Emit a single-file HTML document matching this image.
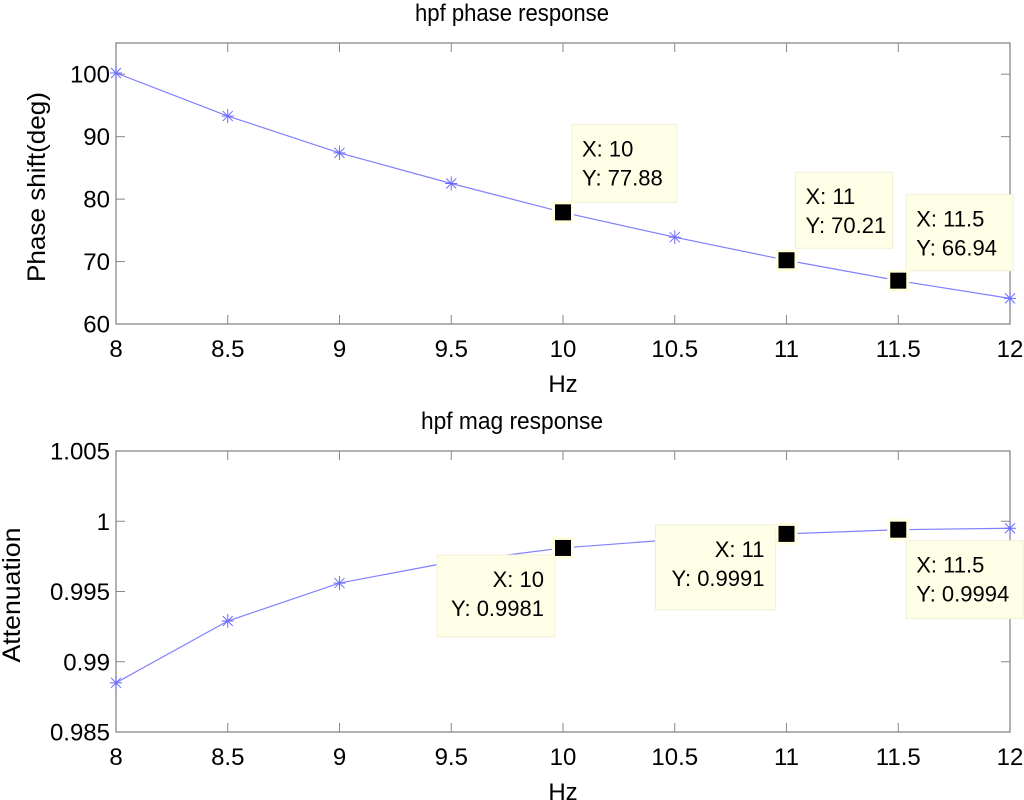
<!DOCTYPE html>
<html><head><meta charset="utf-8"><style>
body{margin:0;background:#fff;}
svg{display:block;font-family:"Liberation Sans",Arial,sans-serif;}
</style></head><body>
<svg id="fig" width="1024" height="800" viewBox="0 0 1024 800"></svg>
<script>
const xs = [8, 8.5, 9, 9.5, 10, 10.5, 11, 11.5, 12];
const phaseVals = [100.2, 93.3, 87.4, 82.5, 77.88, 73.9, 70.21, 66.94, 64.1];
const magVals = [0.9885, 0.9929, 0.9956, 0.9971, 0.9981, 0.9987, 0.9991, 0.9994, 0.9995];
const xTicks = [8, 8.5, 9, 9.5, 10, 10.5, 11, 11.5, 12];
const xTickLabels = ["8", "8.5", "9", "9.5", "10", "10.5", "11", "11.5", "12"];
const phaseTicks = [60, 70, 80, 90, 100];
const phaseTickLabels = ["60", "70", "80", "90", "100"];
const magTicks = [0.985, 0.99, 0.995, 1, 1.005];
const magTickLabels = ["0.985", "0.99", "0.995", "1", "1.005"];
const phaseTipX = [10, 11, 11.5];
const phaseTipY = [77.88, 70.21, 66.94];
const phaseTipLabelY = ["77.88", "70.21", "66.94"];
const magTipX = [10, 11, 11.5];
const magTipY = [0.9981, 0.9991, 0.9994];
const magTipLabelY = ["0.9981", "0.9991", "0.9994"];

const NS = "http://www.w3.org/2000/svg";
const svg = document.getElementById('fig');
function mk(tag, attrs, parent) {
  const e = document.createElementNS(NS, tag);
  for (const k in attrs) e.setAttribute(k, attrs[k]);
  (parent || svg).appendChild(e);
  return e;
}
function drawPanel(o) {
  const L = 116, R = 1010, T = o.top, B = o.top + 281;
  const sx = v => L + (v - 8) / 4 * (R - L);
  const sy = v => B - (v - o.ymin) / (o.ymax - o.ymin) * (B - T);
  const g = mk('g', {});
  
  
  const box = mk('rect', {x: L, y: T, width: R - L, height: B - T, fill: '#fff', stroke: '#888', 'stroke-width': 1.3}, g);
  
  
  xTicks.forEach((t, i) => {
    const x = sx(t);
    mk('line', {x1: x, x2: x, y1: B, y2: B - 9, stroke: '#888'}, g);
    mk('line', {x1: x, x2: x, y1: T, y2: T + 9, stroke: '#888'}, g);
    const tx = mk('text', {x: x, y: B + 33, 'font-size': 24, 'text-anchor': 'middle', fill: '#000'}, g);
    tx.textContent = xTickLabels[i];
    
    
  });
  o.ticks.forEach((t, i) => {
    const y = sy(t);
    mk('line', {x1: L, x2: L + 9, y1: y, y2: y, stroke: '#888'}, g);
    mk('line', {x1: R, x2: R - 9, y1: y, y2: y, stroke: '#888'}, g);
    const tx = mk('text', {x: L - 6, y: y + 8.5, 'font-size': 24, 'text-anchor': 'end', fill: '#000'}, g);
    tx.textContent = o.tickLabels[i];
    
    
  });
  const title = mk('text', {x: 512, y: T - 22, 'font-size': 24, 'text-anchor': 'middle', fill: '#000', textLength: o.tlen, lengthAdjust: 'spacingAndGlyphs'}, g);
  title.textContent = o.title;
  
  
  const xl = mk('text', {x: 563, y: B + 68, 'font-size': 24, 'text-anchor': 'middle', fill: '#000'}, g);
  xl.textContent = 'Hz';
  
  
  const yl = mk('text', {x: 0, y: 0, 'font-size': 25, 'text-anchor': 'middle', fill: '#000', textLength: o.ylen, lengthAdjust: 'spacingAndGlyphs', transform: 'translate(' + o.ylx + ',' + o.ylc + ') rotate(-90)'}, g);
  yl.textContent = o.ylabel;
  
  
  const pts = xs.map((x, i) => sx(x) + ',' + sy(o.vals[i])).join(' ');
  const line = mk('polyline', {points: pts, fill: 'none', stroke: '#8080ff', 'stroke-width': 1.2}, g);
  
  
  xs.forEach((x, i) => {
    const cx = sx(x), cy = sy(o.vals[i]);
    const m = mk('g', {stroke: '#6a6aff', 'stroke-width': 1}, g);
    
    
    mk('line', {x1: cx - 6, x2: cx + 6, y1: cy, y2: cy}, m);
    mk('line', {x1: cx, x2: cx, y1: cy - 7, y2: cy + 7}, m);
    mk('line', {x1: cx - 5, x2: cx + 5, y1: cy - 5, y2: cy + 5}, m);
    mk('line', {x1: cx - 5, x2: cx + 5, y1: cy + 5, y2: cy - 5}, m);
  });
  o.tipX.forEach((tx, i) => {
    const cx = sx(tx), cy = sy(o.tipY[i]);
    const off = o.boxes[i];
    const tg = mk('g', {}, g);
    
    
    mk('rect', {x: cx + off[0], y: cy + off[1], width: off[2], height: off[3], fill: '#ffffe8', stroke: '#f0f0d8'}, tg);
    mk('rect', {x: cx - 11, y: cy - 11, width: 22, height: 22, fill: '#ffffe0'}, tg);
    mk('rect', {x: cx - 8, y: cy - 8, width: 16, height: 16, fill: '#000'}, tg);
    const anchor = off[4];
    const tx2 = anchor === 'end' ? cx + off[0] + off[2] - 11 : cx + off[0] + 10;
    const t1 = mk('text', {x: tx2, y: cy + off[1] + 32, 'font-size': 22, 'text-anchor': anchor, fill: '#000'}, tg);
    t1.textContent = 'X: ' + tx;
    const t2 = mk('text', {x: tx2, y: cy + off[1] + 61, 'font-size': 22, 'text-anchor': anchor, fill: '#000'}, tg);
    t2.textContent = 'Y: ' + o.tipLabels[i];
  });
}
drawPanel({name: 'phase-panel', top: 43, ymin: 60, ymax: 105, ticks: phaseTicks, tickLabels: phaseTickLabels,
  title: 'hpf phase response', tlen: 194, ylabel: 'Phase shift(deg)', ylx: 45, ylc: 187, ylen: 190, vals: phaseVals,
  tipX: phaseTipX, tipY: phaseTipY, tipLabels: phaseTipLabelY,
  boxes: [[9, -88, 105, 78, 'start'], [9, -88, 97, 76, 'start'], [8, -86, 107, 76, 'start']]});
drawPanel({name: 'mag-panel', top: 451, ymin: 0.985, ymax: 1.005, ticks: magTicks, tickLabels: magTickLabels,
  title: 'hpf mag response', tlen: 182, ylabel: 'Attenuation', ylx: 20, ylc: 595, ylen: 135, vals: magVals,
  tipX: magTipX, tipY: magTipY, tipLabels: magTipLabelY,
  boxes: [[-126, 7, 118, 82, 'end'], [-131, -9, 120, 85, 'end'], [8, 11, 117, 78, 'start']]});
</script>
</body></html>
